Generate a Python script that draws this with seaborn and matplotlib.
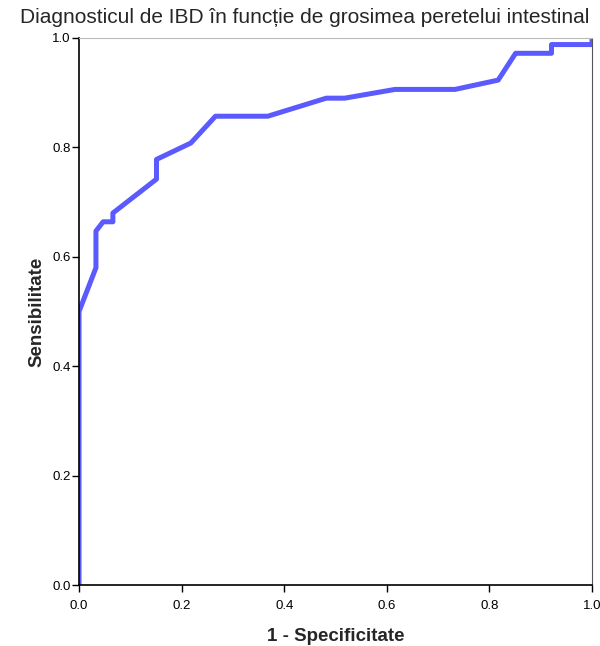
import pandas as pd
import seaborn as sns
import matplotlib.pyplot as plt

# ROC curve points
fpr = [0.0, 0.0, 0.033, 0.033, 0.047, 0.066, 0.066, 0.151, 0.151, 0.218, 0.266,
       0.368, 0.482, 0.518, 0.616, 0.733, 0.817, 0.851, 0.921, 0.921, 1.0, 1.0]
tpr = [0.0, 0.50, 0.58, 0.647, 0.664, 0.664, 0.68, 0.742, 0.778, 0.808, 0.857,
       0.857, 0.89, 0.89, 0.906, 0.906, 0.923, 0.972, 0.972, 0.988, 0.988, 1.0]
ticks = [0.0, 0.2, 0.4, 0.6, 0.8, 1.0]

sns.set_style("ticks")
plt.rcParams['font.family'] = ['Liberation Sans', 'DejaVu Sans']

df = pd.DataFrame({"fpr": fpr, "tpr": tpr})

fig = plt.figure(figsize=(6.0, 6.46), dpi=100)
ax = fig.add_axes([0.1317, 0.0944, 0.855, 0.8468])

sns.lineplot(data=df, x="fpr", y="tpr", sort=False, estimator=None,
             color="#5a5aff", linewidth=3.6, ax=ax)

ax.set_xlim(0, 1)
ax.set_ylim(0, 1)
ax.set_xticks(ticks)
ax.set_yticks(ticks)
ax.set_xticklabels([f"{t:.1f}" for t in ticks], fontsize=9.5)
ax.set_yticklabels([f"{t:.1f}" for t in ticks], fontsize=9.5)
ax.tick_params(axis="x", direction="out", length=5, width=1, colors="black", pad=6)
ax.tick_params(axis="y", direction="out", length=5, width=1, colors="black", pad=1)

for side in ["left", "bottom"]:
    ax.spines[side].set_color("black")
    ax.spines[side].set_linewidth(1.2)
ax.spines["right"].set_color("#555555")
ax.spines["top"].set_color("#bbbbbb")

ax.set_xlabel("1 - Specificitate", fontsize=13.5, fontweight="bold", labelpad=11)
ax.set_ylabel("Sensibilitate", fontsize=13.5, fontweight="bold", labelpad=5)
fig.suptitle("Diagnosticul de IBD în funcție de grosimea peretelui intestinal",
             x=0.508, y=0.988, fontsize=15)

fig.savefig("out.png", dpi=100)
